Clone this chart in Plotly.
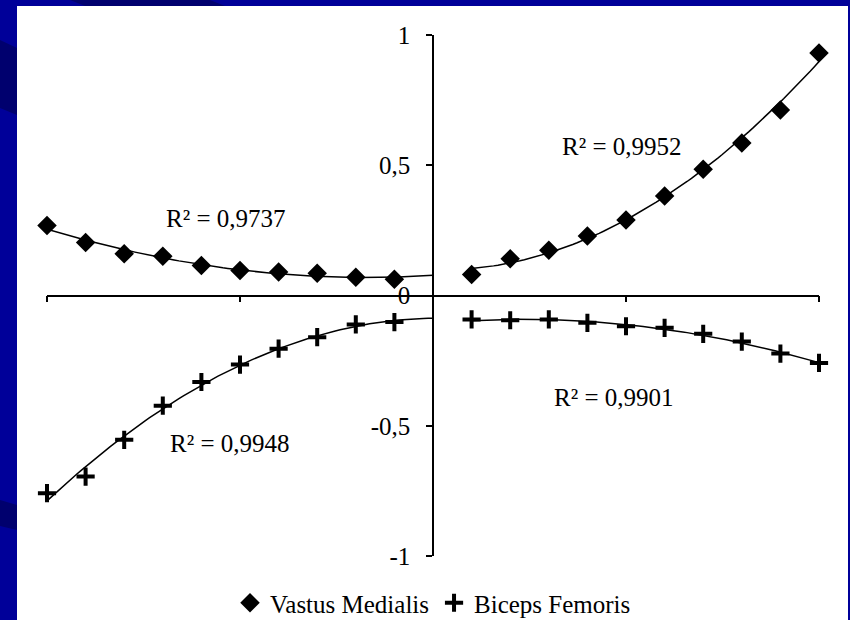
import numpy as np
import plotly.graph_objects as go

# ---- data ----
x_left = [-2.0, -1.8, -1.6, -1.4, -1.2, -1.0, -0.8, -0.6, -0.4, -0.2]
x_right = [0.2, 0.4, 0.6, 0.8, 1.0, 1.2, 1.4, 1.6, 1.8, 2.0]

vm_left = [0.269, 0.203, 0.160, 0.151, 0.115, 0.096, 0.090, 0.085, 0.070, 0.062]
vm_right = [0.081, 0.141, 0.174, 0.228, 0.290, 0.382, 0.485, 0.585, 0.712, 0.931]
bf_left = [-0.759, -0.695, -0.554, -0.423, -0.332, -0.265, -0.204, -0.160, -0.111, -0.102]
bf_right = [-0.092, -0.095, -0.092, -0.105, -0.118, -0.124, -0.147, -0.177, -0.223, -0.259]

series_names = ["Vastus Medialis", "Biceps Femoris"]
r2_labels = ["R² = 0,9737", "R² = 0,9952", "R² = 0,9901", "R² = 0,9948"]
y_tickvals = [-1, -0.5, 0, 0.5, 1]
y_ticktext = ["-1", "-0,5", "0", "0,5", "1"]
x_tickvals = [-2, -1, 0, 1, 2]

FONT = "Liberation Serif"
BLUE = "#000099"
DARK = "#00006e"


def trend(xs, ys, x0, x1, deg=2):
    c = np.polyfit(xs, ys, deg)
    xx = np.linspace(x0, x1, 80)
    return xx, np.polyval(c, xx)


fig = go.Figure()

# trendlines (polynomial fits of the data)
for xs, ys, x0, x1 in [
    (x_left, vm_left, -2.0, 0.0),
    (x_right, vm_right, 0.2, 2.0),
    (x_left, bf_left, -2.0, 0.0),
    (x_right, bf_right, 0.2, 2.0),
]:
    tx, ty = trend(xs, ys, x0, x1)
    fig.add_trace(go.Scatter(x=tx, y=ty, mode="lines", line=dict(color="black", width=1.5),
                             showlegend=False, hoverinfo="skip", cliponaxis=False))

fig.add_trace(go.Scatter(
    x=x_left + x_right, y=vm_left + vm_right, mode="markers", name=series_names[0],
    marker=dict(symbol="diamond", size=15, color="black"), cliponaxis=False))
fig.add_trace(go.Scatter(
    x=x_left + x_right, y=bf_left + bf_right, mode="markers", name=series_names[1],
    marker=dict(symbol="cross-thin", size=13, color="black",
                line=dict(color="black", width=4)), cliponaxis=False))

ann_pos = [(-1.075, 0.296), (0.977, 0.573), (0.94, -0.392), (-1.052, -0.567)]
for (ax, ay), txt in zip(ann_pos, r2_labels):
    fig.add_annotation(x=ax, y=ay, text=txt, showarrow=False,
                       font=dict(family=FONT, size=25, color="black"))

# white panel and darker background bands
shapes = [
    dict(type="rect", xref="paper", yref="paper", x0=-30 / 772, x1=801 / 772,
         y0=(556 - 630) / 521, y1=(556 - 6) / 521, fillcolor="white", line_width=0, layer="below"),
    dict(type="path", xref="paper", yref="paper",
         path="M %f %f L %f %f L %f %f L %f %f Z" % (
             -47 / 772, (556 - 40) / 521, -30 / 772, (556 - 48) / 521,
             -30 / 772, (556 - 115) / 521, -47 / 772, (556 - 108) / 521),
         fillcolor=DARK, line_width=0, layer="below"),
    dict(type="path", xref="paper", yref="paper",
         path="M %f %f L %f %f L %f %f L %f %f Z" % (
             -47 / 772, (556 - 500) / 521, -30 / 772, (556 - 505) / 521,
             -30 / 772, (556 - 530) / 521, -47 / 772, (556 - 526) / 521),
         fillcolor=DARK, line_width=0, layer="below"),
    dict(type="path", xref="paper", yref="paper",
         path="M %f %f L %f %f L %f %f L %f %f Z" % (
             (70 - 47) / 772, 1 + 35 / 521, (210 - 47) / 772, 1 + 35 / 521,
             (225 - 47) / 772, 1 + 29 / 521, (85 - 47) / 772, 1 + 29 / 521),
         fillcolor=DARK, line_width=0, layer="below"),
]

fig.update_layout(
    width=850, height=620,
    margin=dict(l=47, r=31, t=35, b=64, autoexpand=False),
    paper_bgcolor=BLUE, plot_bgcolor="rgba(0,0,0,0)",
    font=dict(family=FONT, size=25, color="black"),
    shapes=shapes,
    showlegend=True,
    legend=dict(orientation="h", xref="paper", x=0.5, xanchor="center",
                yref="container", y=1 - 603 / 620, yanchor="middle",
                font=dict(family=FONT, size=25, color="black"),
                bgcolor="rgba(0,0,0,0)", itemwidth=30, tracegroupgap=0),
    xaxis=dict(range=[-2, 2], anchor="free", position=0.5, showline=True, linecolor="black",
               linewidth=1.5, ticks="outside", ticklen=6, tickwidth=1.5, tickcolor="black",
               tickvals=x_tickvals, showticklabels=False, showgrid=False, zeroline=False),
    yaxis=dict(range=[-1, 1], anchor="free", position=0.5, showline=True, linecolor="black",
               linewidth=1.5, ticks="outside", ticklen=6, tickwidth=1.5, tickcolor="black",
               tickvals=y_tickvals, ticktext=y_ticktext, showgrid=False, zeroline=False,
               tickfont=dict(family=FONT, size=25, color="black"), ticklabelstandoff=11),
)

fig.write_html("out.html", config={"displayModeBar": False},
               post_script="document.body.style.margin='0px';")
